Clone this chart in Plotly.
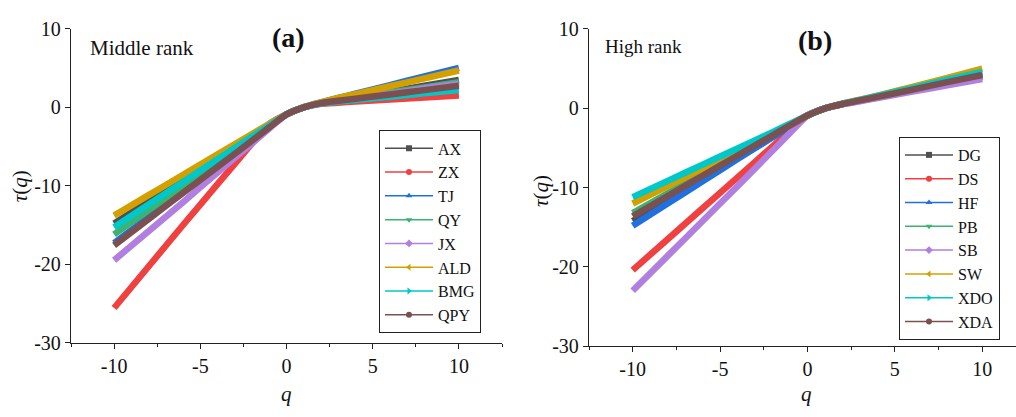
import plotly.graph_objects as go

q = [-10, -8, -6, -4, -2, -1, 0, 1, 2, 3, 4, 6, 8, 10]

# Panel (a): Middle rank
names_a = ["AX", "ZX", "TJ", "QY", "JX", "ALD", "BMG", "QPY"]
AX = [-14.8, -12.0, -9.2, -6.4, -3.6, -2.2, -0.9, 0.0, 0.55, 0.95, 1.3, 2.0, 2.75, 3.5]
ZX = [-25.6, -20.3, -15.0, -9.8, -4.6, -2.1, -0.9, 0.0, 0.45, 0.6, 0.75, 1.0, 1.25, 1.5]
TJ = [-17.3, -14.0, -10.7, -7.5, -4.2, -2.5, -0.9, 0.05, 0.65, 1.2, 1.75, 2.85, 3.95, 5.05]
QY = [-16.2, -13.1, -10.05, -7.0, -3.9, -2.4, -0.9, 0.0, 0.55, 0.95, 1.25, 1.9, 2.55, 3.2]
JX = [-19.5, -15.8, -12.1, -8.3, -4.6, -2.7, -0.9, 0.0, 0.55, 0.85, 1.15, 1.75, 2.4, 3.0]
ALD = [-13.8, -11.2, -8.6, -6.0, -3.4, -2.1, -0.9, 0.05, 0.65, 1.2, 1.7, 2.7, 3.7, 4.7]
BMG = [-15.3, -12.4, -9.5, -6.6, -3.7, -2.3, -0.9, 0.0, 0.5, 0.75, 0.95, 1.35, 1.8, 2.2]
QPY = [-17.6, -14.25, -10.9, -7.6, -4.25, -2.55, -0.9, 0.0, 0.55, 0.85, 1.1, 1.65, 2.2, 2.75]
series_a = [AX, ZX, TJ, QY, JX, ALD, BMG, QPY]

# Panel (b): High rank
names_b = ["DG", "DS", "HF", "PB", "SB", "SW", "XDO", "XDA"]
DG = [-14.2, -11.5, -8.9, -6.2, -3.6, -2.2, -0.9, 0.0, 0.55, 1.0, 1.45, 2.4, 3.35, 4.3]
DS = [-20.4, -16.5, -12.6, -8.7, -4.8, -2.8, -0.9, 0.0, 0.55, 0.95, 1.4, 2.25, 3.1, 4.0]
HF = [-14.8, -12.0, -9.2, -6.4, -3.65, -2.25, -0.9, 0.0, 0.55, 1.0, 1.45, 2.4, 3.4, 4.4]
PB = [-13.2, -10.7, -8.2, -5.7, -3.3, -2.1, -0.9, 0.0, 0.55, 1.0, 1.45, 2.4, 3.35, 4.3]
SB = [-23.0, -18.6, -14.2, -9.8, -5.35, -3.1, -0.9, 0.0, 0.5, 0.9, 1.3, 2.1, 2.9, 3.7]
SW = [-12.0, -9.8, -7.6, -5.4, -3.2, -2.05, -0.9, 0.0, 0.6, 1.1, 1.6, 2.7, 3.85, 5.0]
XDO = [-11.2, -9.15, -7.1, -5.05, -3.0, -1.95, -0.9, 0.0, 0.6, 1.05, 1.55, 2.55, 3.6, 4.6]
XDA = [-13.6, -11.05, -8.5, -5.95, -3.4, -2.15, -0.9, 0.0, 0.55, 1.0, 1.45, 2.35, 3.3, 4.2]
series_b = [DG, DS, HF, PB, SB, SW, XDO, XDA]

# Tick labels (hyphen minus as in the reference)
x_tickvals = [-10, -5, 0, 5, 10]
x_ticktext = ["-10", "-5", "0", "5", "10"]
y_tickvals = [-30, -20, -10, 0, 10]
y_ticktext = ["-30", "-20", "-10", "0", "10"]

colors = ["#505050", "#F04040", "#2070E0", "#3CB371", "#B07FE0", "#D4A000", "#00C8C8", "#7B5050"]
symbols = ["square", "circle", "triangle-up", "triangle-down", "diamond",
           "triangle-left", "triangle-right", "circle"]

FONT = "Liberation Serif"

fig = go.Figure()

def add_panel(names, series, xa, ya, legend):
    for name, vals, c, s in zip(names, series, colors, symbols):
        fig.add_trace(go.Scatter(
            x=q, y=vals, mode="lines", xaxis=xa, yaxis=ya,
            line=dict(color=c, width=6.5, shape="spline", smoothing=0.5),
            showlegend=False, hoverinfo="skip"))
    for name, vals, c, s in zip(names, series, colors, symbols):
        fig.add_trace(go.Scatter(
            x=[None], y=[None], mode="lines+markers", name=name,
            xaxis=xa, yaxis=ya, legend=legend,
            line=dict(color=c, width=1.5),
            marker=dict(color=c, symbol=s, size=6)))

add_panel(names_a, series_a, "x", "y", "legend")
add_panel(names_b, series_b, "x2", "y2", "legend2")

axis_common = dict(
    showline=True, linecolor="#222", linewidth=1.3, mirror=False,
    ticks="outside", ticklen=5, tickwidth=1.2, tickcolor="#222",
    showgrid=False, zeroline=False,
    tickfont=dict(family=FONT, size=20, color="#111"),
)
xminor = dict(dtick=2.5, tick0=0, ticks="outside", ticklen=3, tickcolor="#222")

legend_common = dict(xanchor="left", yanchor="top",
                     bordercolor="#222", borderwidth=1, bgcolor="white",
                     font=dict(family=FONT, size=16, color="#111"),
                     itemwidth=48, tracegroupgap=0)

fig.update_layout(
    width=1016, height=417,
    margin=dict(l=0, r=0, t=0, b=0),
    paper_bgcolor="white", plot_bgcolor="white",
    font=dict(family=FONT, color="#111"),
    xaxis=dict(domain=[71/1016, 502/1016], range=[-12.5, 12.5],
               tickvals=x_tickvals, ticktext=x_ticktext, minor=xminor,
               anchor="y", **axis_common),
    yaxis=dict(domain=[(417-350)/417, (417-19)/417], range=[-30, 10],
               tickvals=y_tickvals, ticktext=y_ticktext,
               anchor="x", **axis_common),
    xaxis2=dict(domain=[589/1016, 1.0], range=[-12.5, 11.93],
                tickvals=x_tickvals, ticktext=x_ticktext, minor=xminor,
                anchor="y2", **axis_common),
    yaxis2=dict(domain=[(417-354)/417, (417-19)/417], range=[-30, 10],
                tickvals=y_tickvals, ticktext=y_ticktext,
                anchor="x2", **axis_common),
    legend=dict(x=379/1016, y=(417-126)/417, **legend_common),
    legend2=dict(x=899/1016, y=(417-133)/417, **legend_common),
)

annos = [
    dict(text="Middle rank", x=88, y=39, size=21),
    dict(text="<b>(a)</b>", x=288, y=28, size=28, center=True),
    dict(text="High rank", x=603, y=37, size=19),
    dict(text="<b>(b)</b>", x=815, y=31, size=28, center=True),
    dict(text="<i>q</i>", x=286, y=404, size=21, center=True),
    dict(text="<i>q</i>", x=806, y=404, size=21, center=True),
]
for a in annos:
    fig.add_annotation(
        text=a["text"], xref="paper", yref="paper",
        x=a["x"]/1016, y=1 - a["y"]/417,
        xanchor="center" if a.get("center") else "left", yanchor="middle",
        showarrow=False, font=dict(family=FONT, size=a["size"], color="#111"))

for xpix, ypix in [(20, 185), (541, 190)]:
    fig.add_annotation(
        text="<i>τ</i>(<i>q</i>)", xref="paper", yref="paper",
        x=xpix/1016, y=1 - ypix/417, xanchor="center", yanchor="middle",
        textangle=-90, showarrow=False,
        font=dict(family=FONT, size=21, color="#111"))

fig.write_html("out.html")
